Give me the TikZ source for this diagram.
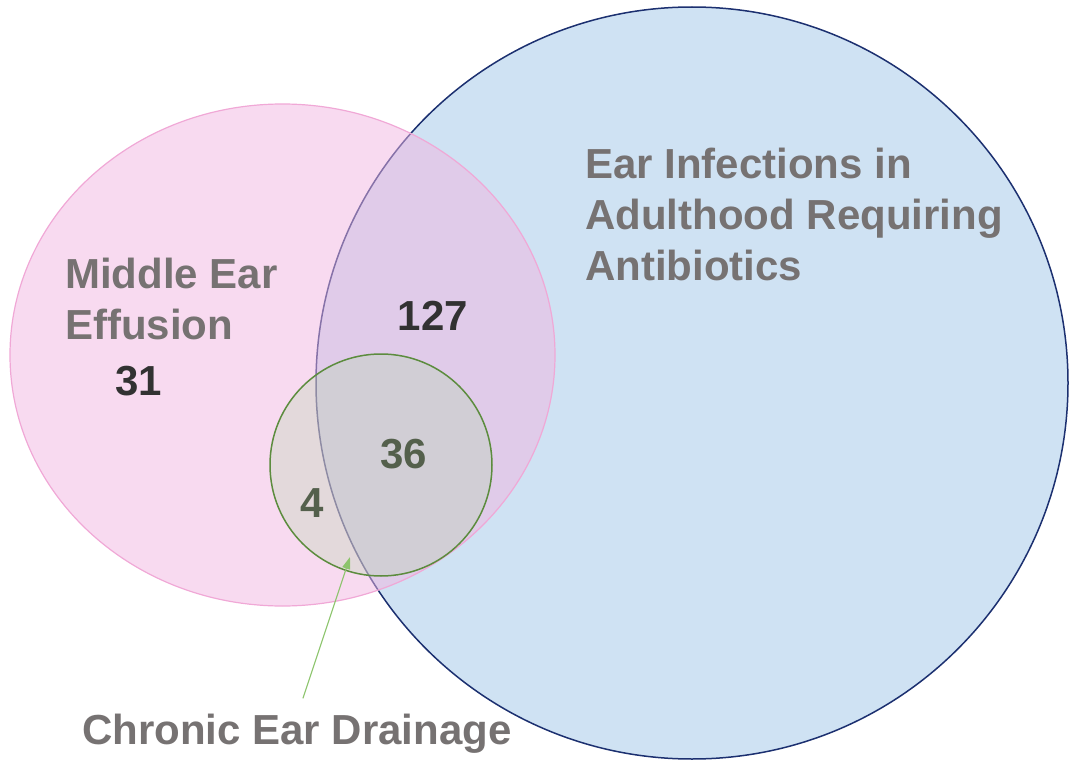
\documentclass[tikz,border=0pt]{standalone}
\usepackage{fontspec}
\setmainfont{Liberation Sans}
\usetikzlibrary{arrows.meta}
\definecolor{adultfill}{RGB}{207,226,243}
\definecolor{adultline}{RGB}{28,48,112}
\definecolor{effufill}{RGB}{241,181,225}
\definecolor{effuline}{RGB}{240,168,214}
\definecolor{drainfill}{RGB}{168,217,155}
\definecolor{drainline}{RGB}{92,140,62}
\definecolor{pointer}{RGB}{140,196,108}
\definecolor{labelgray}{RGB}{118,114,114}
\definecolor{countdark}{RGB}{50,50,50}
\definecolor{countgreen}{RGB}{84,96,76}

\begin{document}
\begin{tikzpicture}[x=1pt, y=-1pt,
    setname/.style={text=labelgray, font=\fontsize{42}{51}\selectfont\bfseries, align=left, inner sep=0pt},
    count/.style={font=\fontsize{42}{51}\selectfont\bfseries, inner sep=0pt, anchor=base}]
    \useasboundingbox (0,0) rectangle (1069,760);
    \coordinate (adult) at (692,383); \coordinate (effu) at (282.5,355); \coordinate (drain) at (381,465);
    % the three sets
    \draw[line width=1.5pt, draw=adultline, fill=adultfill] (adult) circle[radius=376pt];
    \draw[line width=1.2pt, draw=effuline, fill=effufill, fill opacity=0.5] (effu) ellipse[x radius=272.5pt, y radius=251pt];
    \draw[line width=1.5pt, draw=drainline, fill=drainfill, fill opacity=0.25] (drain) circle[radius=111pt];
    % names of the sets
    \node[setname, anchor=north west] (adultname) at (585,148) {Ear Infections in\\Adulthood Requiring\\Antibiotics};
    \node[setname, anchor=north west] (effuname) at (65,258) {Middle Ear\\Effusion};
    \node[setname, anchor=base west] (drainname) at (82,744) {Chronic Ear Drainage};
    % counts
    \node[count, text=countdark] (n31) at (139,395) {31}; \node[count, text=countdark] (n127) at (433,330) {127};
    \node[count, text=countgreen] (n36) at (404,468) {36}; \node[count, text=countgreen] (n4) at (312,517) {4};
    % pointer from the name to its circle
    \coordinate (tip) at (350,557);
    \draw[line width=1.1pt, draw=pointer, -{Triangle[length=12pt, width=8pt]}] ([xshift=6pt, yshift=15pt]drainname.north) -- (tip);
\end{tikzpicture}
\end{document}
